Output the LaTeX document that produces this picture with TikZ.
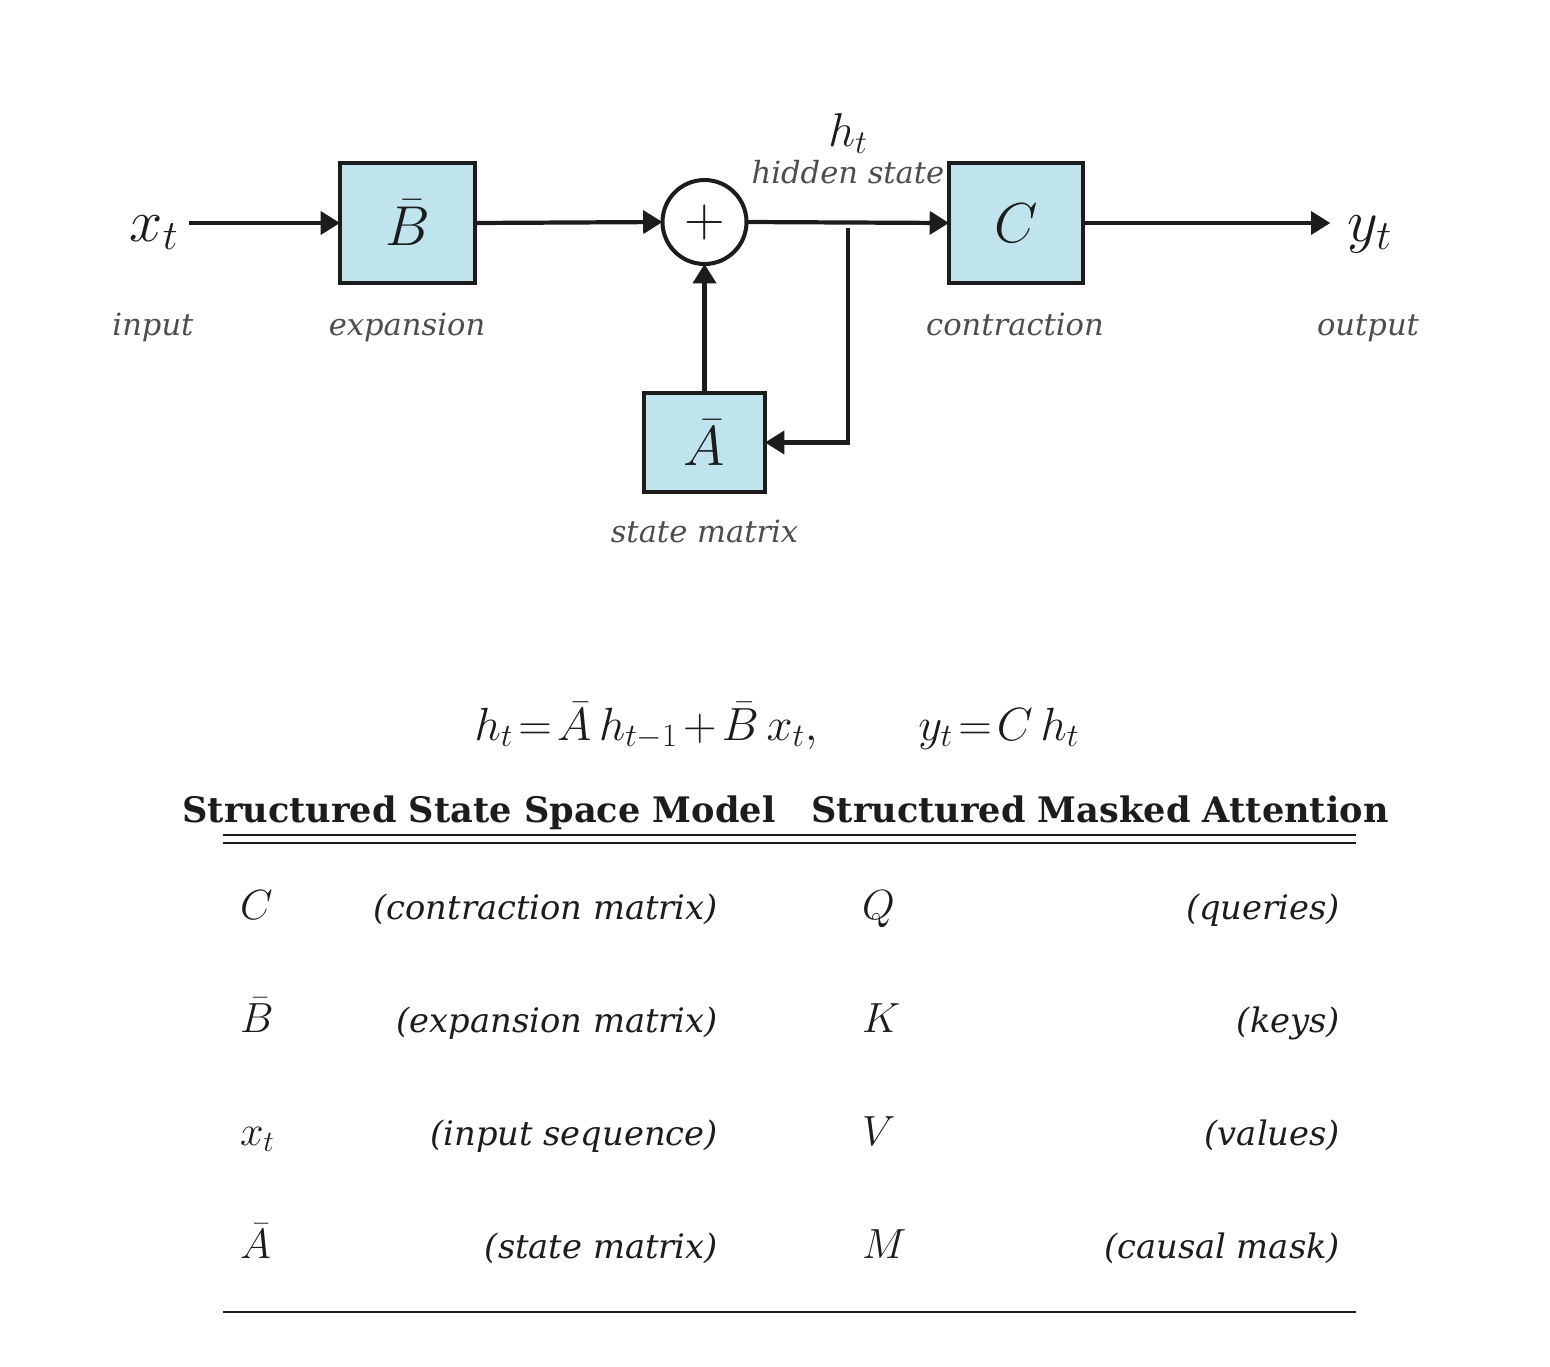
\RequirePackage{fix-cm}
\documentclass[tikz,border=0pt]{standalone}
\usepackage{fontspec}
\setmainfont{DejaVu Serif}
\usetikzlibrary{arrows.meta}
\definecolor{boxblue}{RGB}{191,228,238}
\definecolor{ink}{RGB}{28,28,28}
\definecolor{labelgray}{RGB}{77,77,77}

\begin{document}
\begin{tikzpicture}[x=0.02cm, y=-0.02cm,
	every node/.style={inner sep=0pt, outer sep=0pt, text=ink},
	block/.style={draw=ink, line width=2.3pt, fill=boxblue, font=\fontsize{32}{36}\selectfont},
	flow/.style={draw=ink, line width=2.4pt, -{Triangle[length=11pt, width=13pt]}},
	sym/.style={font=\fontsize{34}{38}\selectfont},
	note/.style={text=labelgray, font=\fontsize{17.4}{20}\selectfont\itshape},
	head/.style={font=\fontsize{20}{24}\selectfont\bfseries},
	desc/.style={font=\fontsize{19.2}{23}\selectfont\itshape},
	tsym/.style={font=\fontsize{24}{28}\selectfont},
	rule/.style={draw=ink, line width=1.3pt}]
	\useasboundingbox (0,0) rectangle (1550,1366);

	% block diagram
	\node[block, minimum width=2.7cm, minimum height=2.4cm] (Bbox) at (407.5,223) {$\bar{B}$};
	\node[draw=ink, line width=2.3pt, circle, minimum size=1.68cm, font=\fontsize{32}{36}\selectfont] (sum) at (704.5,222) {$+$};
	\node[block, minimum width=2.68cm, minimum height=2.4cm] (Cbox) at (1016,223) {$C$};
	\node[block, minimum width=2.42cm, minimum height=1.98cm] (Abox) at (704.5,442.5) {$\bar{A}$};

	\node[sym, anchor=base] (xt) at (154,241) {$x_t$};
	\node[sym, anchor=base] (yt) at (1370,241) {$y_t$};
	\node[font=\fontsize{27}{30}\selectfont, anchor=base] (ht) at (848,146) {$h_t$};
	\node[note, anchor=base] (hlab) at (848,183) {hidden state};

	\node[note, anchor=base] (inlab) at (153,335) {input};
	\node[note, anchor=base] (Blab) at (407,335) {expansion};
	\node[note, anchor=base] (Clab) at (1015,335) {contraction};
	\node[note, anchor=base] (outlab) at (1368,335) {output};
	\node[note, anchor=base] (Alab) at (704.5,542) {state matrix};

	\coordinate (tap) at (848,228);

	\draw[flow, shorten <=6pt] (xt.east |- Bbox.west) -- (Bbox.west);
	\draw[flow] (Bbox.east) -- (sum.west);
	\draw[flow] (sum.east) -- (Cbox.west);
	\draw[flow, shorten >=10pt] (Cbox.east) -- (Cbox.east -| yt.west);
	\draw[flow] (Abox.north) -- (sum.south);
	\draw[flow] (tap) |- (Abox.east);

	% recurrence
	\node[font=\fontsize{26.5}{30}\selectfont, anchor=base] (eq) at (777,740)
		{\thickmuskip=2mu \medmuskip=2mu $h_t = \bar{A}\,h_{t-1} + \bar{B}\,x_t, \qquad y_t = C\,h_t$};

	% correspondence table
	\node[head, anchor=base] (ssmhead) at (479,822) {Structured State Space Model};
	\node[head, anchor=base] (atthead) at (1100,822) {Structured Masked Attention};
	\draw[rule, line width=1.6pt] (223,835) -- (1356,835);
	\draw[rule] (223,843) -- (1356,843);

	\foreach \i/\s/\d/\q/\e/\y in {1/C/contraction matrix/Q/queries/919,
			2/\bar{B}/expansion matrix/K/keys/1032,
			3/x_t/input sequence/V/values/1145,
			4/\bar{A}/state matrix/M/causal mask/1258} {
		\node[tsym, anchor=base west] (ssm\i) at (240,\y) {$\s$};
		\node[desc, anchor=base east] (ssmd\i) at (718,\y) {(\d)};
		\node[tsym, anchor=base west] (att\i) at (862,\y) {$\q$};
		\node[desc, anchor=base east] (attd\i) at (1340,\y) {(\e)};
	}
	\draw[rule, line width=1.6pt] (223,1312) -- (1356,1312);
\end{tikzpicture}
\end{document}
